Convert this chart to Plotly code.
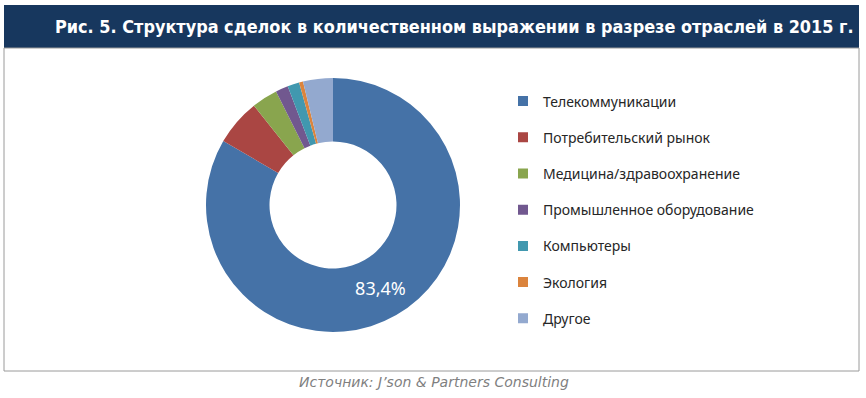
import plotly.graph_objects as go

title = "Рис. 5. Структура сделок в количественном выражении в разрезе отраслей в 2015 г."
source = "Источник: J’son & Partners Consulting"
categories = [
    "Телекоммуникации",
    "Потребительский рынок",
    "Медицина/здравоохранение",
    "Промышленное оборудование",
    "Компьютеры",
    "Экология",
    "Другое",
]
values = [83.4, 5.9, 3.3, 1.6, 1.5, 0.5, 3.8]
colors = ["#4572A7", "#AA4643", "#89A54E", "#71588F", "#4198AF", "#DB843D", "#93A9CF"]

W, H = 866, 398

def px(x):
    return x / W

def py(y):
    return 1 - y / H

labels_text = [(f"{v:.1f}".replace(".", ",") + "%") if i == 0 else "" for i, v in enumerate(values)]

fig = go.Figure()
fig.add_trace(go.Pie(
    labels=categories,
    values=values,
    hole=0.5,
    sort=False,
    direction="clockwise",
    rotation=0,
    marker=dict(colors=colors, line=dict(width=0)),
    text=labels_text,
    textinfo="text",
    textposition="inside",
    insidetextorientation="horizontal",
    insidetextfont=dict(color="white", size=18, family="Noto Sans"),
    showlegend=False,
    domain=dict(x=[px(206), px(460)], y=[py(332), py(78)]),
))

for i, (c, col) in enumerate(zip(categories, colors)):
    fig.add_trace(go.Scatter(
        x=[None], y=[None], mode="markers",
        marker=dict(symbol="square", size=10, color=col),
        name=c, legendgroup=f"g{i}", showlegend=True, hoverinfo="skip",
    ))

fig.update_layout(
    width=W, height=H,
    margin=dict(l=0, r=0, t=0, b=0),
    paper_bgcolor="white", plot_bgcolor="white",
    xaxis=dict(visible=False), yaxis=dict(visible=False),
    legend=dict(
        x=px(503), y=py(85.5), xanchor="left", yanchor="top",
        font=dict(family="Noto Sans", size=14, color="#262626"),
        tracegroupgap=15, bgcolor="rgba(0,0,0,0)",
    ),
    shapes=[
        dict(type="rect", xref="paper", yref="paper",
             x0=px(4), x1=px(859), y0=py(371), y1=py(48),
             line=dict(color="#9A9A9A", width=1), fillcolor="rgba(0,0,0,0)"),
        dict(type="rect", xref="paper", yref="paper",
             x0=px(4), x1=px(859), y0=py(48), y1=py(5),
             line=dict(width=0), fillcolor="#17375E", layer="below"),
    ],
    annotations=[
        dict(text=f"<b>{title}</b>", xref="paper", yref="paper",
             x=px(856), y=py(26.5), xanchor="right", yanchor="middle", showarrow=False,
             font=dict(family="DejaVu Sans Condensed", size=17.9, color="white")),
        dict(text=f"<i>{source}</i>", xref="paper", yref="paper",
             x=px(434), y=py(382), xanchor="center", yanchor="middle", showarrow=False,
             font=dict(family="DejaVu Sans", size=14, color="#7F7F7F")),
    ],
)

fig.write_html("out.html", config={"displayModeBar": False},
               post_script="document.body.style.margin='0';")
